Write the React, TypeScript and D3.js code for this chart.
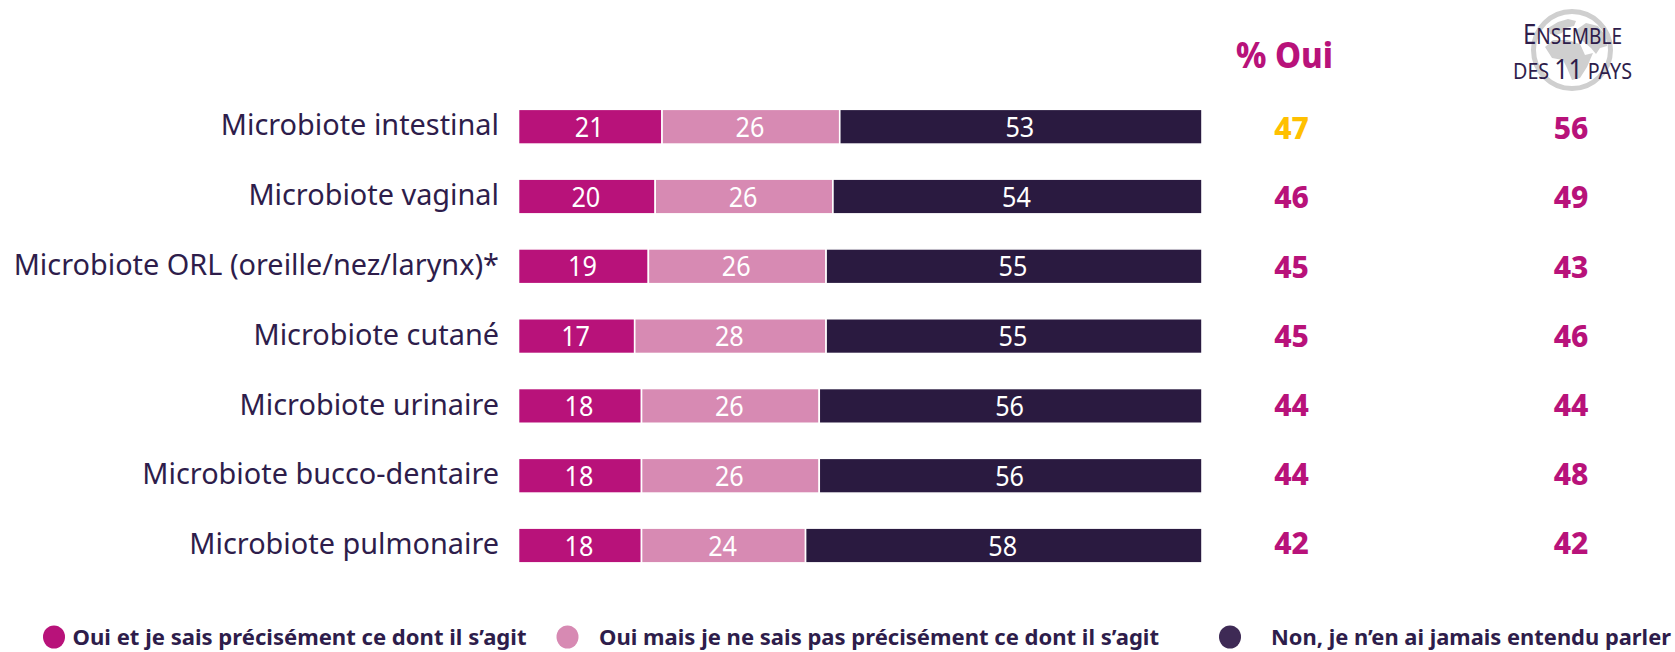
import React, { useEffect, useRef } from "react";
import * as d3 from "d3";

const categories = [
  "Microbiote intestinal",
  "Microbiote vaginal",
  "Microbiote ORL (oreille/nez/larynx)*",
  "Microbiote cutané",
  "Microbiote urinaire",
  "Microbiote bucco-dentaire",
  "Microbiote pulmonaire",
];
const ouiPrecis = [21, 20, 19, 17, 18, 18, 18];
const ouiVague = [26, 26, 26, 28, 26, 26, 24];
const nonJamais = [53, 54, 55, 55, 56, 56, 58];
const pctOui = [47, 46, 45, 45, 44, 44, 42];
const ensemble = [56, 49, 43, 46, 44, 48, 42];
const seriesKeys = ["precis", "vague", "non"];
const legendLabels = [
  "Oui et je sais précisément ce dont il s’agit",
  "Oui mais je ne sais pas précisément ce dont il s’agit",
  "Non, je n’en ai jamais entendu parler",
];

const MAGENTA = "#b8127a";
const PINK = "#d78ab3";
const DARK = "#2a1a40";
const INK = "#2e1d4b";
const FONT = "'Noto Sans', sans-serif";

const App = () => {
  const svgRef = useRef<SVGSVGElement>(null);

  useEffect(() => {
    const svg = d3.select(svgRef.current);
    svg.selectAll("*").remove();

    const x = d3.scaleLinear().domain([0, 100]).range([518.5, 1202]);
    const y = d3.scaleBand()
      .domain(categories)
      .range([109.3, 109.3 + 6 * 69.8 + 34.8])
      .paddingInner(1 - 34.8 / 69.8);
    // les colonnes de droite ont un pas un peu plus serre que les barres
    const yValues = d3.scalePoint().domain(categories).range([139.3, 554.4]);
    const color = d3.scaleOrdinal<string, string>().domain(seriesKeys).range([MAGENTA, PINK, DARK]);

    const rows = categories.map((c, i) => ({
      category: c,
      precis: ouiPrecis[i],
      vague: ouiVague[i],
      non: nonJamais[i],
    }));
    const stacked = d3.stack<any>().keys(seriesKeys)(rows);

    // Globe derriere l'en-tete
    const globe = svg.append("g").attr("transform", "translate(1572,50)");
    globe.append("circle").attr("r", 38.5).attr("fill", "none").attr("stroke", "#cfcfcf").attr("stroke-width", 5);
    globe.append("path").attr("fill", "#cfcfcf").attr("d",
      "M-24,-22 L-14,-28 L-4,-31 L4,-29 L2,-24 L-6,-22 L-10,-17 L-16,-15 L-22,-16 Z " +
      "M-27,-3 L-19,-10 L-4,-10 L8,-6 L13,5 L21,3 L15,17 L8,28 L0,30 L-5,18 L-9,10 L-20,8 Z " +
      "M4,-20 L14,-27 L26,-24 L34,-14 L35,-4 L28,-2 L24,4 L19,-2 L12,-8 L6,-13 Z");

    const bars = svg.append("g");
    stacked.forEach((s) => {
      bars.selectAll(null)
        .data(s)
        .enter()
        .append("rect")
        .attr("x", (d) => x(d[0]))
        .attr("y", (d) => y(d.data.category)!)
        .attr("width", (d) => x(d[1]) - x(d[0]))
        .attr("height", y.bandwidth())
        .attr("fill", color(s.key))
        .attr("stroke", "#fff")
        .attr("stroke-width", 1.6);
      bars.selectAll(null)
        .data(s)
        .enter()
        .append("text")
        .attr("x", (d) => (x(d[0]) + x(d[1])) / 2 - 1)
        .attr("y", (d) => y(d.data.category)! + y.bandwidth() / 2)
        .attr("dy", "0.36em")
        .attr("text-anchor", "middle")
        .attr("font-family", FONT)
        .attr("font-size", 28)
        .attr("fill", "#fff")
        .text((d) => d[1] - d[0])
        .each(function () {
          const w = this.getComputedTextLength();
          d3.select(this).attr("textLength", w * 0.9).attr("lengthAdjust", "spacingAndGlyphs");
        });
    });

    // Libelles de gauche
    const axis = svg.append("g")
      .attr("transform", "translate(499,0)")
      .call(d3.axisLeft(y).tickSize(0).tickPadding(0));
    axis.select(".domain").remove();
    axis.selectAll<SVGTextElement, string>("text")
      .attr("font-family", FONT)
      .attr("font-size", 29)
      .attr("fill", INK)
      .attr("dy", "0.3em")
      .each(function () {
        const w = this.getComputedTextLength();
        d3.select(this).attr("textLength", w * 0.995).attr("lengthAdjust", "spacingAndGlyphs");
      });

    // Colonnes de droite
    const column = (values: number[], cx: number) => {
      svg.append("g").selectAll("text")
        .data(values)
        .enter()
        .append("text")
        .attr("x", cx)
        .attr("y", (_, i) => yValues(categories[i])!)
        .attr("text-anchor", "middle")
        .attr("font-family", FONT)
        .attr("font-weight", 800)
        .attr("font-size", 30)
        .attr("fill", (_, i) => (cx < 1400 && i === 0 ? "#ffc000" : MAGENTA))
        .text((d) => d);
    };
    column(pctOui, 1291.5);
    column(ensemble, 1571);

    svg.append("text")
      .attr("x", 1284.5).attr("y", 68)
      .attr("text-anchor", "middle")
      .attr("font-family", FONT).attr("font-weight", 800).attr("font-size", 36)
      .attr("fill", MAGENTA)
      .attr("textLength", 97).attr("lengthAdjust", "spacingAndGlyphs")
      .text("% Oui");

    const head1 = svg.append("text")
      .attr("x", 1572.5).attr("y", 44).attr("text-anchor", "middle")
      .attr("font-family", FONT).attr("font-weight", 400).attr("fill", INK)
      .attr("textLength", 99).attr("lengthAdjust", "spacingAndGlyphs");
    head1.append("tspan").attr("font-size", 27).text("E");
    head1.append("tspan").attr("font-size", 21.5).text("NSEMBLE");

    const head2 = svg.append("text")
      .attr("x", 1572.5).attr("y", 79).attr("text-anchor", "middle")
      .attr("font-family", FONT).attr("font-weight", 400).attr("fill", INK)
      .attr("textLength", 119).attr("lengthAdjust", "spacingAndGlyphs");
    head2.append("tspan").attr("font-size", 21.5).text("DES ");
    head2.append("tspan").attr("font-size", 27).text("11");
    head2.append("tspan").attr("font-size", 21.5).text(" PAYS");

    // Legende
    const legendDots = [54, 567.5, 1230];
    const legendText = [
      { x: 72.5, w: 454 },
      { x: 599, w: 560 },
      { x: 1271, w: 400 },
    ];
    const legendColor = [MAGENTA, PINK, "#3e2a55"];
    legendLabels.forEach((label, i) => {
      svg.append("ellipse")
        .attr("cx", legendDots[i]).attr("cy", 637)
        .attr("rx", 11).attr("ry", 11.5)
        .attr("fill", legendColor[i]);
      svg.append("text")
        .attr("x", legendText[i].x).attr("y", 645)
        .attr("font-family", FONT).attr("font-weight", 700).attr("font-size", 22)
        .attr("fill", INK)
        .attr("textLength", legendText[i].w).attr("lengthAdjust", "spacingAndGlyphs")
        .text(label);
    });
  }, []);

  return (
    <svg
      ref={svgRef}
      width={1675}
      height={652}
      style={{ position: "absolute", left: 0, top: 0, background: "#fff" }}
    />
  );
};

export default App;
